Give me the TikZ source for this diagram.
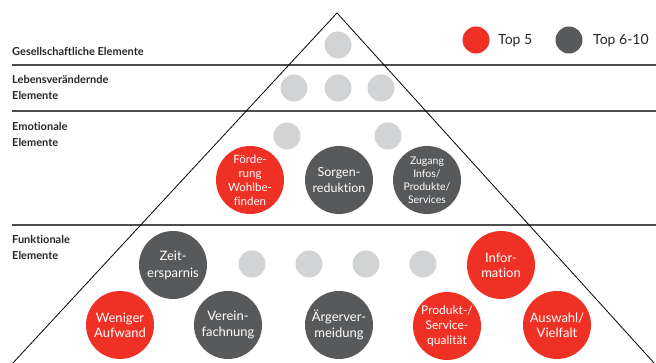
\documentclass[tikz,border=0pt]{standalone}
\usepackage{fontspec}
\setmainfont{Lato}[Ligatures=NoCommon]
\definecolor{topred}{HTML}{EE3124}
\definecolor{topgray}{HTML}{58595B}
\definecolor{dotgray}{HTML}{D1D3D4}
\definecolor{rulegray}{HTML}{4D4D4F}
\begin{document}
\begin{tikzpicture}[x=1pt,y=-1pt,
  level/.style={anchor=west,align=left,inner sep=0pt,text=black!85,
    font=\fontsize{11}{16}\selectfont\bfseries},
  rule/.style={draw=rulegray,line width=1.3pt},
  dot/.style={circle,fill=dotgray,minimum size=27pt,inner sep=0pt},
  big/.style={circle,minimum size=68pt,inner sep=0pt,align=center,text=white,
    font=\fontsize{12.5}{16}\selectfont},
  tfive/.style={big,fill=topred},
  tten/.style={big,fill=topgray},
  legdot/.style={circle,minimum size=27pt,inner sep=0pt},
  legtext/.style={anchor=west,inner sep=0pt,font=\fontsize{14}{16}\selectfont,text=black!85}]
\useasboundingbox (0,0) rectangle (656,363);

% level rules
\coordinate (r1a) at (12,65);  \coordinate (r1b) at (656,65);
\coordinate (r2a) at (12,111); \coordinate (r2b) at (656,111);
\coordinate (r3a) at (12,225); \coordinate (r3b) at (656,225);
\draw[rule] (r1a) -- (r1b);
\draw[rule] (r2a) -- (r2b);
\draw[rule] (r3a) -- (r3b);

% pyramid outline
\coordinate (apex) at (337,13);
\coordinate (bl) at (12,364);
\coordinate (br) at (655,364);
\draw[black,line width=0.8pt] (bl) -- (apex) -- (br);

% level labels
\node[level] (l1) at (12,51) {Gesellschaftliche Elemente};
\node[level] (l2) at (12,87) {Lebensverändernde\\Elemente};
\node[level] (l3) at (12,134) {Emotionale\\Elemente};
\node[level] (l4) at (12,247) {Funktionale\\Elemente};

% legend
\node[legdot,fill=topred] (lr) at (476,40) {};
\node[legtext] (lrt) at (498,41) {Top 5};
\node[legdot,fill=topgray] (lg) at (569,40) {};
\node[legtext] (lgt) at (593,41) {Top 6-10};

% light dots
\node[dot] (g1) at (338,45) {};
\node[dot] (v1) at (294,88) {};
\node[dot] (v2) at (338,88) {};
\node[dot] (v3) at (381,88) {};
\node[dot] (e1) at (287,136) {};
\node[dot] (e2) at (388,136) {};
\node[dot] (f1) at (252,264) {};
\node[dot] (f2) at (309,264) {};
\node[dot] (f3) at (366,264) {};
\node[dot] (f4) at (423,264) {};

% emotional elements
\node[tfive,font=\fontsize{11.5}{14}\selectfont] (wohl) at (250,180) {Förde-\\rung\\Wohlbe-\\finden};
\node[tten] (sorg) at (339,180) {Sorgen-\\reduktion};
\node[tten,font=\fontsize{10.5}{13}\selectfont] (zug) at (427,180) {Zugang\\Infos/\\Produkte/\\Services};

% functional elements
\node[tten,font=\fontsize{13}{17}\selectfont] (zeit) at (173,265) {Zeit-\\ersparnis};
\node[tfive,font=\fontsize{13}{15}\selectfont] (info) at (501,265) {Infor-\\mation};
\node[tfive,font=\fontsize{13}{15}\selectfont] (wenig) at (120,325) {Weniger\\Aufwand};
\node[tten,font=\fontsize{13}{16}\selectfont] (vere) at (228,325) {Verein-\\fachnung};
\node[tten,font=\fontsize{13}{16}\selectfont] (aerg) at (339,325) {Ärgerver-\\meidung};
\node[tfive,font=\fontsize{12}{15}\selectfont] (qual) at (447,326) {Produkt-/\\Service-\\qualität};
\node[tfive,font=\fontsize{13}{15}\selectfont] (ausw) at (557,325) {Auswahl/\\Vielfalt};
\end{tikzpicture}
\end{document}
